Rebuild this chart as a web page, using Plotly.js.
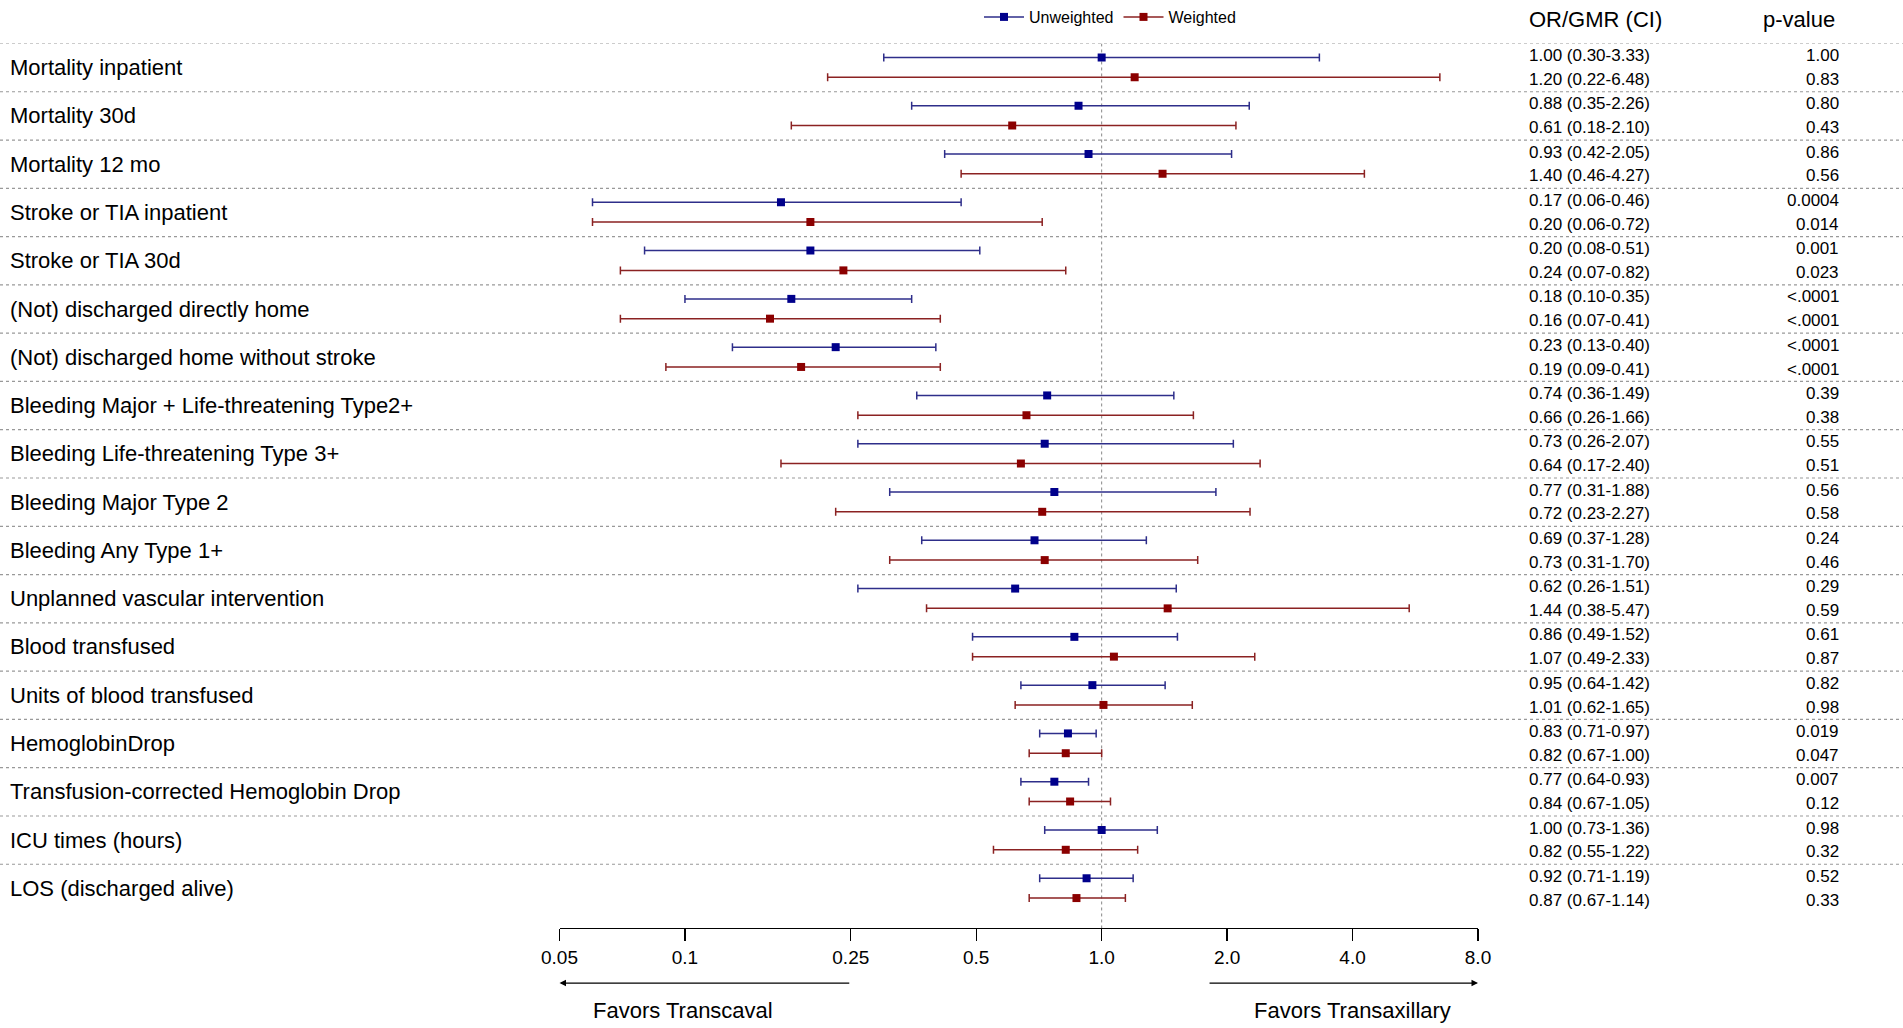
<!DOCTYPE html>
<html>
<head>
<meta charset="utf-8">
<script src="https://cdn.plot.ly/plotly-3.0.1.min.js"></script>
<style>html,body{margin:0;padding:0;background:#fff;}#chart{width:1903px;height:1028px;}</style>
</head>
<body>
<div id="chart"></div>
<script>
// ---- data ----
const categories = [
  "Mortality inpatient","Mortality 30d","Mortality 12 mo","Stroke or TIA inpatient","Stroke or TIA 30d",
  "(Not) discharged directly home","(Not) discharged home without stroke",
  "Bleeding Major + Life-threatening Type2+","Bleeding Life-threatening Type 3+","Bleeding Major Type 2",
  "Bleeding Any Type 1+","Unplanned vascular intervention","Blood transfused","Units of blood transfused",
  "HemoglobinDrop","Transfusion-corrected Hemoglobin Drop","ICU times (hours)","LOS (discharged alive)"
];
const orU = [1.00,0.88,0.93,0.17,0.20,0.18,0.23,0.74,0.73,0.77,0.69,0.62,0.86,0.95,0.83,0.77,1.00,0.92];
const loU = [0.30,0.35,0.42,0.06,0.08,0.10,0.13,0.36,0.26,0.31,0.37,0.26,0.49,0.64,0.71,0.64,0.73,0.71];
const hiU = [3.33,2.26,2.05,0.46,0.51,0.35,0.40,1.49,2.07,1.88,1.28,1.51,1.52,1.42,0.97,0.93,1.36,1.19];
const pU  = ["1.00","0.80","0.86","0.0004","0.001","<.0001","<.0001","0.39","0.55","0.56","0.24","0.29","0.61","0.82","0.019","0.007","0.98","0.52"];
const orW = [1.20,0.61,1.40,0.20,0.24,0.16,0.19,0.66,0.64,0.72,0.73,1.44,1.07,1.01,0.82,0.84,0.82,0.87];
const loW = [0.22,0.18,0.46,0.06,0.07,0.07,0.09,0.26,0.17,0.23,0.31,0.38,0.49,0.62,0.67,0.67,0.55,0.67];
const hiW = [6.48,2.10,4.27,0.72,0.82,0.41,0.41,1.66,2.40,2.27,1.70,5.47,2.33,1.65,1.00,1.05,1.22,1.14];
const pW  = ["0.83","0.43","0.56","0.014","0.023","<.0001","<.0001","0.38","0.51","0.58","0.46","0.59","0.87","0.98","0.047","0.12","0.32","0.33"];
const seriesNames = ["Unweighted","Weighted"];
const tickVals = [0.05,0.1,0.25,0.5,1,2,4,8];
const tickText = ["0.05","0.1","0.25","0.5","1.0","2.0","4.0","8.0"];
const nullValue = 1;
const favorsLeft = {text:"Favors Transcaval", from:0.25, to:0.05, labelPx:683};
const favorsRight = {text:"Favors Transaxillary", from:1.8, to:8, labelPx:1352};

// ---- layout constants ----
const W = 1903, H = 1028;
const FONT = "Liberation Sans, Arial, sans-serif";
const topPx = 42.5, groupPx = 48.33, axisPx = 928;
const yMax = (axisPx - topPx) / groupPx;
const offU = 0.29, offW = 0.70;
const colU = {marker:"#00008b", line:"#2e2e8a"};
const colW = {marker:"#8b0000", line:"#8b2222"};

function interleave(arr, f){ const out=[]; arr.forEach((v,i)=>{ out.push(f(v,i)); out.push(null); }); return out; }

function makeSeries(name, or, lo, hi, off, col){
  return {
    type:"scatter", mode:"lines+markers", name:name,
    x: interleave(or, v=>v),
    y: interleave(or, (v,i)=>i+off),
    connectgaps:false,
    line:{color:col.line, width:1.5},
    marker:{symbol:"square", size:8, color:col.marker},
    error_x:{type:"data", symmetric:false,
      array: interleave(or,(v,i)=>hi[i]-v),
      arrayminus: interleave(or,(v,i)=>v-lo[i]),
      color:col.line, thickness:1.5, width:4},
    hoverinfo:"skip"
  };
}

const traces = [
  {type:"scatter", mode:"lines", x:[nullValue,nullValue], y:[0,yMax], showlegend:false,
   line:{color:"#888", width:1, dash:"dot"}, hoverinfo:"skip"},
  makeSeries(seriesNames[0], orU, loU, hiU, offU, colU),
  makeSeries(seriesNames[1], orW, loW, hiW, offW, colW)
];

const shapes = [];
for(let i=0;i<categories.length;i++){
  shapes.push({type:"line", xref:"paper", x0:0, x1:1, yref:"y", y0:i, y1:i,
    line:{color:"#999", width:1.2, dash:"dot"}, layer:"below"});
}

const annotations = [];
const ci = (o,l,h)=> o.toFixed(2)+" ("+l.toFixed(2)+"-"+h.toFixed(2)+")";
categories.forEach((c,i)=>{
  annotations.push({xref:"paper", x:8/W, xanchor:"left", yref:"y", y:i+0.5, yanchor:"middle",
    text:c, showarrow:false, font:{family:FONT, size:22, color:"#000"}});
  annotations.push({xref:"paper", x:1527/W, xanchor:"left", yref:"y", y:i+0.25, yanchor:"middle",
    text:ci(orU[i],loU[i],hiU[i]), showarrow:false, font:{family:FONT, size:17, color:"#000"}});
  annotations.push({xref:"paper", x:1527/W, xanchor:"left", yref:"y", y:i+0.745, yanchor:"middle",
    text:ci(orW[i],loW[i],hiW[i]), showarrow:false, font:{family:FONT, size:17, color:"#000"}});
  annotations.push({xref:"paper", x:1841/W, xanchor:"right", yref:"y", y:i+0.25, yanchor:"middle",
    text:pU[i], showarrow:false, font:{family:FONT, size:17, color:"#000"}});
  annotations.push({xref:"paper", x:1841/W, xanchor:"right", yref:"y", y:i+0.745, yanchor:"middle",
    text:pW[i], showarrow:false, font:{family:FONT, size:17, color:"#000"}});
});
annotations.push({xref:"paper", x:1527/W, xanchor:"left", yref:"paper", y:1-19/H, yanchor:"middle",
  text:"OR/GMR (CI)", showarrow:false, font:{family:FONT, size:22, color:"#000"}});
annotations.push({xref:"paper", x:1837/W, xanchor:"right", yref:"paper", y:1-19/H, yanchor:"middle",
  text:"p-value", showarrow:false, font:{family:FONT, size:22, color:"#000"}});

// favors arrows and labels
[favorsLeft, favorsRight].forEach(f=>{
  annotations.push({xref:"x", x:Math.log10(f.to), axref:"x", ax:Math.log10(f.from),
    yref:"paper", y:1-983/H, ayref:"pixel", ay:0, text:"", showarrow:true,
    arrowhead:2, arrowsize:1, arrowwidth:1.3, arrowcolor:"#000", standoff:0, startstandoff:0});
  annotations.push({xref:"paper", x:f.labelPx/W, xanchor:"center", yref:"paper", y:1-1010/H, yanchor:"middle",
    text:f.text, showarrow:false, font:{family:FONT, size:22, color:"#000"}});
});

const layout = {
  width:W, height:H,
  margin:{l:0, r:0, t:0, b:0},
  paper_bgcolor:"#fff", plot_bgcolor:"#fff",
  font:{family:FONT, color:"#000"},
  showlegend:true,
  legend:{orientation:"h", x:979/W, xanchor:"left", y:1-16/H, yanchor:"middle", itemwidth:40,
    font:{family:FONT, size:16, color:"#000"}, bgcolor:"rgba(0,0,0,0)"},
  xaxis:{type:"log", range:[Math.log10(0.05), Math.log10(8)],
    domain:[559.5/W, 1478/W], showgrid:false, zeroline:false,
    showline:true, linecolor:"#000", linewidth:1.3, mirror:false,
    ticks:"outside", ticklen:12, tickwidth:1.3, tickcolor:"#000",
    tickvals:tickVals, ticktext:tickText, tickfont:{family:FONT, size:19, color:"#000"},
    fixedrange:true},
  yaxis:{range:[yMax,0], domain:[1-axisPx/H, 1-topPx/H], showgrid:false, zeroline:false,
    showline:false, showticklabels:false, ticks:"", fixedrange:true},
  shapes:shapes,
  annotations:annotations
};

Plotly.newPlot("chart", traces, layout, {displayModeBar:false, staticPlot:true});
</script>
</body>
</html>
